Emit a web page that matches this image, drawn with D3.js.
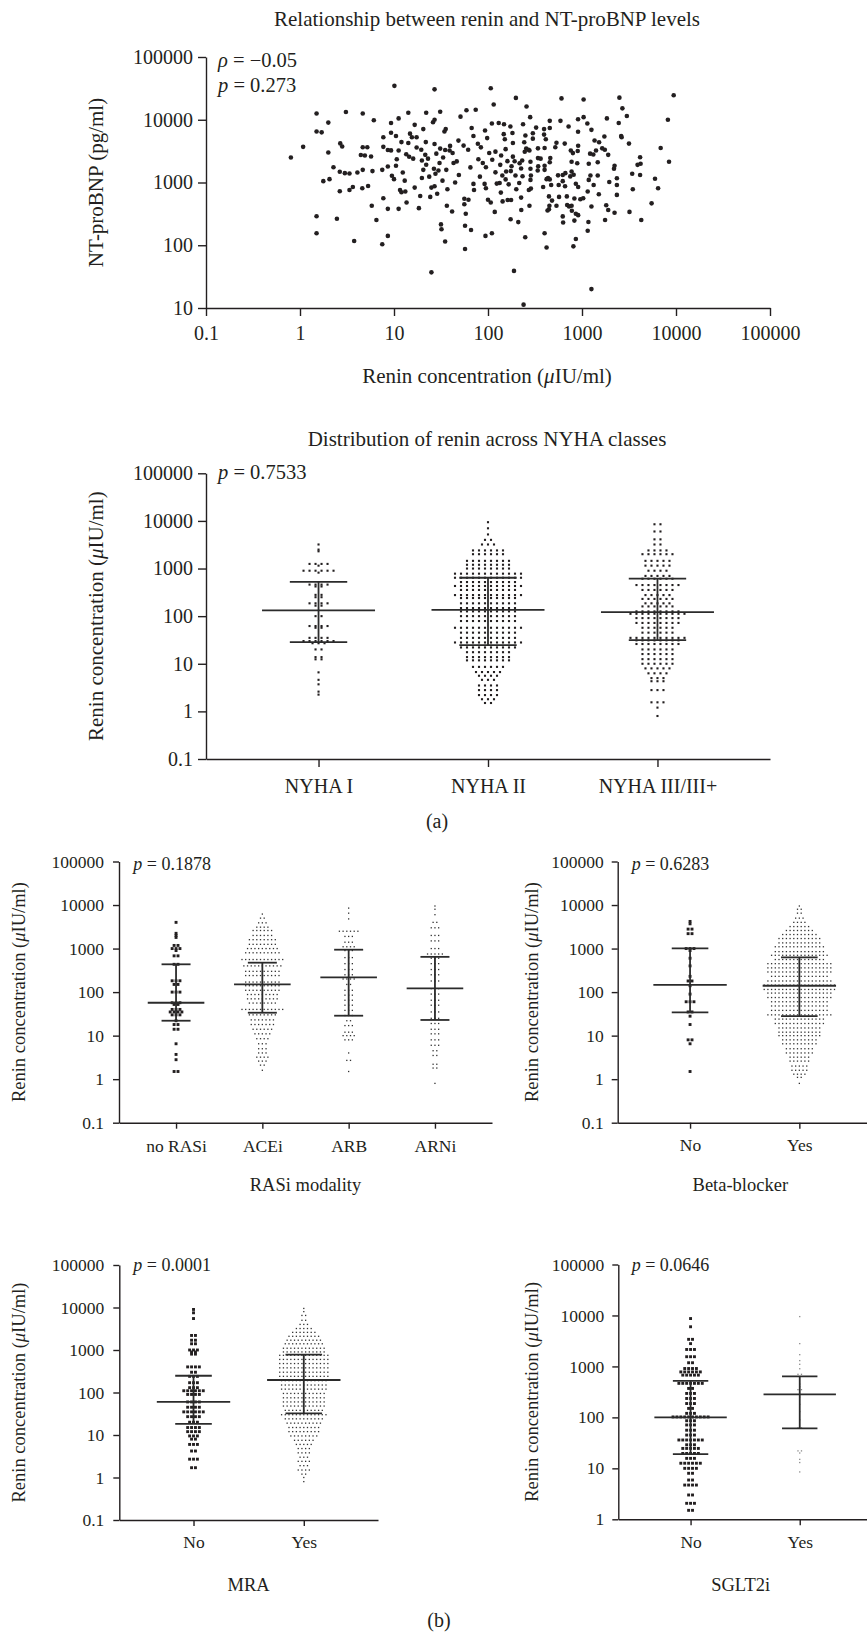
<!DOCTYPE html>
<html><head><meta charset="utf-8">
<script src="https://cdn.jsdelivr.net/npm/d3@7"></script>
<style>
body{margin:0;background:#fff}
</style></head><body>
<svg id="chart" width="867" height="1632"></svg>
<script>
// ---------------- DATA ----------------
const logTicks = [0.1, 1, 10, 100, 1000, 10000, 100000];
const logTickLabels = ["0.1", "1", "10", "100", "1000", "10000", "100000"];
const bnpTicks = [10, 100, 1000, 10000, 100000];
const bnpTickLabels = ["10", "100", "1000", "10000", "100000"];
const sgltTicks = [1, 10, 100, 1000, 10000, 100000];
const sgltTickLabels = ["1", "10", "100", "1000", "10000", "100000"];

// scatter: renin (µIU/ml) vs NT-proBNP (pg/ml)
const scatterRenin = [10.1,27,107,198,605,1040,2500,9450,8200,
0.8,1.08,1.5,1.5,1.7,2.0,2.0,1.77,2.06,2.27,2.65,1.5,1.5,2.47,3.08,2.68,2.81,2.65,3.0,3.36,3.36,3.65,3.77,4.08,4.65,4.65,5.2,4.44,4.9,5.7,4.65,4.6,5.3,6.1,5.9,5.8,6.5,7.5,7.5,7.7,7.7,7.7,8.6,8.6,8.6,8.6,9.3,9.3,9.3,9.5,10,10.5,10.7,10.5,11.2,11.2,11.2,12,12.4,11.6,12,13,13.2,13.6,14.2,13.5,14.2,14.5,14.8,15.5,16,16.6,16.6,17.4,17.4,18.4,19,19.5,19.8,20.5,20.5,19.8,21.5,22,21.8,22,23,23.7,24.3,25,25,26,27,26.6,27,27,27.6,28.2,28.8,29.7,30.5,31,31,31.6,32,32.8,33.3,34.4,35,35,35.5,36,36.5,37,39,39.5,41.5,42,43,44.7,46.5,48.5,49,51,55,56,56,58,57,57,59,61.5,62,66,67,65,70,70,71,74,78,79,82,84,88,94,95,93,100,103,110,111,107,110,115,92,98,95,
257,281,130,148,173,236,325,454,454,590,720,908,1040,1140,1260,908,1840,2690,3000,2460,2610,2640,3160,6870,8430,4150,4200,3900,4150,3420,5980,6450,3470,5500,4270,3200,2220,2350,2350,2350,2190,2220,1950,1900,1750,1640,1730,1520,1360,1410,1320,1470,1220,1180,1230,1330,1180,1470,1510,1810,1900,1760,1260,1150,1030,1170,1150,1260,960,910,900,890,800,775,775,750,815,860,910,830,775,780,860,910,830,860,810,728,695,660,690,624,665,624,655,760,535,520,556,565,570,535,480,450,445,430,624,630,454,460,454,470,436,420,400,400,445,400,420,386,395,400,412,395,340,340,363,342,338,300,300,283,286,272,286,283,283,276,270,255,246,250,243,231,217,225,233,215,200,225,226,276,249,210,192,196,178,184,184,182,175,176,162,166,154,156,161,154,151,147,174,189,239,138,135,142,133,137,143,120,124,120,118];
const scatterNtProBNP = [34700,30500,31800,22300,21900,21000,22500,24600,10000,
2500,3700,12600,6500,6300,9000,3000,1050,1130,1750,725,290,155,265,13300,4200,3750,1480,1410,1390,760,850,117,1440,12600,3640,3650,2740,2700,2600,1590,810,880,9800,1520,425,253,1590,104,5250,3700,560,3300,1800,380,141,8900,6200,3250,1280,1130,5500,2350,1850,10500,3230,380,4400,1440,760,700,1070,720,480,12900,2820,4250,2570,6000,5250,2400,8300,830,5250,3620,390,610,3320,2240,7100,1590,1180,2760,12900,4400,1920,2400,1240,590,37,830,9100,10000,1660,4100,870,1380,2880,660,1550,2040,13400,3470,215,180,1070,2500,6500,3300,115,7100,1590,425,780,3240,3830,345,2950,2040,1000,2170,4650,1320,11200,3870,550,450,317,87,205,14200,3320,530,175,7400,1740,5500,950,760,14400,4150,2350,1240,3630,2040,141,1750,6750,530,2950,8700,2300,480,155,17500,950,5100,810,
16300,11000,8900,8500,7800,8500,7500,9600,7400,9600,7800,10200,11000,8700,6900,6450,10500,15200,11500,8900,5500,5250,4170,3550,2140,2520,1990,1910,1320,1380,1150,810,780,465,253,340,330,635,910,1170,1660,1850,1020,2760,3330,3500,5400,4380,4660,3230,2800,2100,2880,1990,1290,910,1100,1290,650,435,365,253,415,720,560,235,170,20,540,3860,3180,2030,2940,2140,1500,1250,1330,955,850,555,425,355,317,302,247,126,96,416,437,870,600,1050,1410,1320,4170,3240,4290,3650,1300,910,590,425,515,425,375,357,288,230,2100,2460,1120,910,1180,1130,1850,1590,600,155,92,850,5800,3550,4900,7100,3500,2450,2400,1810,1550,5000,6100,1100,800,760,1290,1660,2140,3230,3330,3480,3090,5600,4380,2240,2030,1670,1260,980,780,575,365,425,134,234,2180,1290,1820,2580,4250,6150,1520,525,525,935,1120,1500,2190,3400,4900,5900,260,39,11.3,2690,1910,1290,980,690,500,1450,960,3100,340];

// NYHA classes: rows of dots as [renin value, number of dots in the row]
const nyhaCats = ["NYHA I", "NYHA II", "NYHA III/III+"];
const nyha1Rows = [[3200,1],[2500,1],[2300,1],[1250,4],[1150,1],[900,6],[820,1],[460,4],[420,2],[280,2],[250,2],[186,4],[166,2],[100,2],[62,4],[57,2],[35,4],[30,6],[27,3],[20,2],[13.8,2],[12.4,2],[6.6,1],[4.6,1],[3.7,1],[2.6,1],[2.25,1]];
const nyha2Rows = [[9400,1],[7000,1],[5200,1],[4000,2],[3200,3],[2400,6],[2000,6],[1450,8],[1200,8],[1000,8],[780,12],[640,12],[520,10],[430,12],[355,10],[277,12],[240,10],[186,10],[148,10],[126,10],[100,10],[79,10],[57,12],[45,10],[35,10],[28,12],[22,10],[17.5,8],[13.8,8],[11.8,8],[8.6,6],[6.7,5],[5.6,4],[4.6,3],[3.5,4],[2.8,4],[2.2,4],[1.8,3],[1.5,2]];
const nyha3Rows = [[8500,2],[6000,2],[4100,2],[3200,2],[2400,4],[2000,6],[1450,5],[1150,5],[900,4],[700,5],[610,6],[450,8],[355,6],[277,5],[230,6],[186,5],[160,6],[126,8],[112,10],[91,8],[72,8],[57,6],[45,6],[35,10],[31,8],[26,8],[20,6],[16,6],[12.5,6],[10,6],[8,5],[6.3,4],[5,3],[4.3,3],[2.8,3],[1.55,3],[1.2,1],[0.8,1]];
const nyhaMedian = [132, 136, 122];
const nyhaQ1 = [28.5, 24.7, 31.3];
const nyhaQ3 = [523, 641, 611];

// RASi modality
const rasiCats = ["no RASi", "ACEi", "ARB", "ARNi"];
const noRasiRows = [[4000,1],[2240,1],[2000,1],[1800,1],[1180,2],[1000,3],[900,1],[680,2],[435,2],[182,3],[150,2],[100,3],[57,3],[52,2],[40,3],[35,4],[30,3],[22,1],[18,2],[14,2],[6.5,1],[3.7,1],[2.8,1],[1.5,2]];
const aceiRows = [[6200,1],[5000,2],[3900,3],[3100,4],[2600,6],[2000,6],[1600,8],[1250,8],[1000,9],[800,10],[560,12],[400,11],[300,10],[240,10],[170,10],[140,10],[110,10],[88,9],[70,9],[56,8],[40,12],[30,8],[23,7],[18,7],[14,6],[11,5],[8.5,4],[6.5,3],[5,3],[4,3],[3.2,4],[2.6,3],[2.1,2],[1.6,1]];
const arbRows = [[8500,1],[6500,1],[4800,1],[2500,6],[1900,3],[1400,3],[1100,4],[900,3],[620,3],[450,3],[330,3],[250,3],[200,4],[150,2],[110,3],[85,3],[65,3],[50,3],[38,3],[29,3],[22,2],[17,3],[12,3],[10,4],[8,3],[4,1],[2.7,2],[1.5,1]];
const arniRows = [[9500,1],[8000,1],[6000,1],[4000,2],[3000,3],[2000,3],[1500,3],[1000,3],[750,5],[600,3],[450,3],[330,3],[250,3],[180,3],[120,3],[90,3],[65,3],[50,3],[35,3],[25,3],[19,3],[14,3],[11,3],[8,3],[6,3],[4.5,2],[3.5,2],[2.2,2],[1.8,2],[0.8,1]];
const rasiMedian = [57, 151, 219, 122];
const rasiQ1 = [22, 33.6, 28.7, 22.9];
const rasiQ3 = [435, 474, 942, 645];

// Yes / No panels
const yesNoCats = ["No", "Yes"];
const bbNoRows = [[4200,1],[3700,1],[2800,2],[2200,2],[1000,3],[900,1],[600,1],[400,1],[230,1],[180,2],[140,1],[90,1],[60,3],[35,2],[28,1],[18,1],[8,2],[6.5,1],[1.5,1]];
const bbYesRows = [[9500,1],[8000,2],[6500,2],[5000,3],[4000,4],[3200,6],[2600,8],[2100,10],[1700,12],[1350,12],[1100,14],[850,14],[700,16],[560,14],[450,18],[360,18],[290,18],[230,16],[180,18],[145,20],[115,20],[95,18],[75,18],[60,16],[48,16],[38,16],[30,18],[24,14],[19,14],[15,12],[12,12],[10,12],[8,10],[6.5,10],[5,8],[4,8],[3.2,6],[2.6,6],[2,5],[1.6,5],[1.3,4],[1.1,2],[0.8,1]];
const bbMedian = [146, 140];
const bbQ1 = [34.4, 28];
const bbQ3 = [1010, 630];

const mraNoRows = [[9000,1],[7500,1],[5500,1],[2200,2],[1700,2],[1400,2],[1000,3],[900,2],[800,2],[400,4],[300,2],[240,3],[170,3],[130,3],[110,6],[90,4],[60,4],[45,4],[35,6],[27,4],[20,3],[15,4],[12,4],[9.5,3],[8,2],[6,3],[4.2,2],[2.7,3],[1.7,2]];
const mraYesRows = [[9500,1],[8000,1],[6500,2],[5000,2],[4000,3],[3200,5],[2600,7],[2100,9],[1700,10],[1400,11],[1100,12],[900,12],[750,14],[600,14],[480,14],[380,14],[300,14],[240,14],[190,13],[150,13],[120,13],[95,12],[75,12],[60,12],[48,12],[38,11],[30,13],[24,11],[19,10],[15,9],[12,9],[9.5,8],[7.5,6],[6,5],[4.8,4],[3.8,4],[3,3],[2.4,4],[1.9,3],[1.5,4],[1.2,2],[1,1],[0.8,1]];
const mraMedian = [60, 197];
const mraQ1 = [18.2, 32.4];
const mraQ3 = [248, 776];

const sgltNoRows = [[8700,1],[6000,1],[3400,2],[2800,1],[2150,3],[1550,3],[1180,2],[910,4],[780,6],[675,5],[465,7],[370,2],[295,3],[235,3],[187,3],[150,2],[120,3],[102,10],[86,3],[71,3],[56,3],[45,3],[36,7],[29,3],[24.6,5],[19.6,5],[15.7,3],[12.6,6],[10,4],[8,2],[5.9,2],[4.7,4],[3,2],[2.06,3],[1.5,2]];
const sgltYesRows = [[9500,1],[2800,1],[1700,1],[1300,1],[1100,1],[900,1],[700,2],[450,1],[400,1],[350,2],[280,1],[250,1],[180,1],[130,1],[90,1],[62,2],[22,2],[20,1],[15,1],[13,1],[8.5,1]];
const sgltMedian = [100, 282];
const sgltQ1 = [19, 61];
const sgltQ3 = [522, 635];

// ---------------- DRAWING ----------------
const ink = "#231f20";
const FONT = '"Liberation Serif","Times New Roman",Times,serif';
const svg = d3.select("#chart");

function styleAxis(sel, fs) {
  sel.attr("font-family", FONT).attr("font-size", fs);
  sel.select(".domain").attr("stroke", ink).attr("stroke-width", 1.4);
  sel.selectAll(".tick line").attr("stroke", ink).attr("stroke-width", 1.4);
  sel.selectAll(".tick text").attr("fill", ink).attr("font-size", fs).attr("font-family", FONT);
}

// parts: array of [string, italic?]
function addText(x, y, parts, fs, anchor, rot) {
  const t = svg.append("text")
    .attr("font-family", FONT).attr("font-size", fs).attr("fill", ink)
    .attr("text-anchor", anchor || "start");
  if (rot) t.attr("transform", `translate(${x},${y}) rotate(${rot})`);
  else t.attr("x", x).attr("y", y);
  parts.forEach(p => {
    const ts = t.append("tspan").text(p[0]);
    if (p[1]) ts.attr("font-style", "italic");
  });
  return t;
}
const reninLabel = [["Renin concentration (", false], ["\u03bc", true], ["IU/ml)", false]];

// ---- Panel 1: scatter ----
(function () {
  const x = d3.scaleLog().domain([0.1, 100000]).range([206, 770]);
  const y = d3.scaleLog().domain([10, 100000]).range([308, 57]);
  const ya = d3.axisLeft(y).tickValues(bnpTicks).tickFormat((d, i) => bnpTickLabels[i])
    .tickSize(8).tickSizeOuter(0).tickPadding(5);
  svg.append("g").attr("transform", "translate(206,0)").call(ya).call(s => styleAxis(s, 20));
  const xa = d3.axisBottom(x).tickValues(logTicks).tickFormat((d, i) => logTickLabels[i])
    .tickSize(8).tickSizeOuter(0).tickPadding(9.5);
  svg.append("g").attr("transform", "translate(0,308)").call(xa).call(s => styleAxis(s, 20));

  const pts = scatterRenin.map((r, i) => ({ r, b: scatterNtProBNP[i] }));
  svg.append("g").selectAll("circle").data(pts).join("circle")
    .attr("cx", d => x(d.r)).attr("cy", d => y(d.b)).attr("r", 2.3).attr("fill", ink);

  addText(487, 26, [["Relationship between renin and NT-proBNP levels", false]], 21, "middle");
  addText(487, 383, reninLabel, 21, "middle");
  addText(103, 182.5, [["NT-proBNP (pg/ml)", false]], 21, "middle", -90);
  addText(218, 67, [["\u03c1", true], [" = \u22120.05", false]], 20.5);
  addText(218, 92, [["p", true], [" = 0.273", false]], 20.5);
})();

// ---- generic dot plot ----
function dotPanel(o) {
  const g = svg.append("g");
  const y = d3.scaleLog().domain(o.yDomain).range([o.yBottom, o.yTop]);
  const x = d3.scalePoint().domain(o.cats).range([o.xL, o.xR]).padding(o.pad);

  const ya = d3.axisLeft(y).tickValues(o.ticks).tickFormat((d, i) => o.tickLabels[i])
    .tickSize(o.tk).tickSizeOuter(0).tickPadding(o.ypad);
  g.append("g").attr("transform", `translate(${o.xL},0)`).call(ya).call(s => styleAxis(s, o.tfs));
  const xa = d3.axisBottom(x).tickSize(o.tk).tickSizeOuter(0).tickPadding(o.xpad);
  g.append("g").attr("transform", `translate(0,${o.yBottom})`).call(xa).call(s => styleAxis(s, o.tfs));

  o.groups.forEach((rows, gi) => {
    const cx = x(o.cats[gi]);
    const st = o.styles[gi];
    const dots = [];
    rows.forEach(([v, c]) => { for (let i = 0; i < c; i++) dots.push({ v, off: (i - (c - 1) / 2) * st.gap }); });
    g.append("g").selectAll("rect").data(dots).join("rect")
      .attr("x", d => cx + d.off - st.size / 2).attr("y", d => y(d.v) - st.size / 2)
      .attr("width", st.size).attr("height", st.size).attr("fill", st.color);
  });

  const lg = g.append("g").attr("stroke", "#2b2b2b").attr("stroke-width", 1.8);
  o.cats.forEach((c, gi) => {
    const cx = x(c);
    lg.append("line").attr("x1", cx - o.mh).attr("x2", cx + o.mh).attr("y1", y(o.med[gi])).attr("y2", y(o.med[gi]));
    lg.append("line").attr("x1", cx - o.ih).attr("x2", cx + o.ih).attr("y1", y(o.q1[gi])).attr("y2", y(o.q1[gi]));
    lg.append("line").attr("x1", cx - o.ih).attr("x2", cx + o.ih).attr("y1", y(o.q3[gi])).attr("y2", y(o.q3[gi]));
    lg.append("line").attr("x1", cx).attr("x2", cx).attr("y1", y(o.q1[gi])).attr("y2", y(o.q3[gi]));
  });

  addText(o.pX, o.pY, [["p", true], [" = " + o.pText, false]], o.pfs);
  if (o.xTitle) addText((o.xL + Math.min(o.xR, 867)) / 2 + (o.xTitleShift || 0), o.xTitleY, [[o.xTitle, false]], o.lfs, "middle");
  addText(o.yTitleX, (o.yTop + o.yBottom) / 2, reninLabel, o.lfs, "middle", -90);
}

const bigSq = { size: 2.9, gap: 3.9, color: ink };
const smallDot = { size: 1.3, gap: 3.7, color: "#333333" };
const nyhaDot = { size: 2.1, gap: 6, color: ink };

// ---- Panel 2: NYHA ----
dotPanel({
  yDomain: [0.1, 100000], yTop: 473.3, yBottom: 759, xL: 206, xR: 770, pad: 0.664,
  cats: nyhaCats, ticks: logTicks, tickLabels: logTickLabels, tk: 8, ypad: 5, xpad: 12, tfs: 20,
  groups: [nyha1Rows, nyha2Rows, nyha3Rows], styles: [nyhaDot, nyhaDot, nyhaDot],
  med: nyhaMedian, q1: nyhaQ1, q3: nyhaQ3, mh: 56.5, ih: 28.7,
  pX: 218, pY: 479, pText: "0.7533", pfs: 20.5, lfs: 21, yTitleX: 103
});
addText(487, 446, [["Distribution of renin across NYHA classes", false]], 21, "middle");
addText(437, 828, [["(a)", false]], 20, "middle");

// ---- Panel b1: RASi ----
dotPanel({
  yDomain: [0.1, 100000], yTop: 861.5, yBottom: 1122.7, xL: 119, xR: 492, pad: 0.661,
  cats: rasiCats, ticks: logTicks, tickLabels: logTickLabels, tk: 6, ypad: 9, xpad: 11.3, tfs: 17.5,
  groups: [noRasiRows, aceiRows, arbRows, arniRows], styles: [bigSq, smallDot, smallDot, smallDot],
  med: rasiMedian, q1: rasiQ1, q3: rasiQ3, mh: 28.3, ih: 14.5,
  pX: 133.3, pY: 870, pText: "0.1878", pfs: 18, lfs: 18.5, yTitleX: 25,
  xTitle: "RASi modality", xTitleY: 1191
});

// ---- Panel b2: Beta-blocker ----
dotPanel({
  yDomain: [0.1, 100000], yTop: 861.5, yBottom: 1122.7, xL: 617.7, xR: 871.7, pad: 0.662,
  cats: yesNoCats, ticks: logTicks, tickLabels: logTickLabels, tk: 6, ypad: 8, xpad: 9.7, tfs: 17.5,
  groups: [bbNoRows, bbYesRows], styles: [bigSq, smallDot],
  med: bbMedian, q1: bbQ1, q3: bbQ3, mh: 36.7, ih: 18.3,
  pX: 631.7, pY: 870, pText: "0.6283", pfs: 18, lfs: 18.5, yTitleX: 538,
  xTitle: "Beta-blocker", xTitleY: 1191, xTitleShift: -2
});

// ---- Panel b3: MRA ----
dotPanel({
  yDomain: [0.1, 100000], yTop: 1265, yBottom: 1520, xL: 119.3, xR: 378, pad: 0.673,
  cats: yesNoCats, ticks: logTicks, tickLabels: logTickLabels, tk: 6, ypad: 9, xpad: 10, tfs: 17.5,
  groups: [mraNoRows, mraYesRows], styles: [bigSq, smallDot],
  med: mraMedian, q1: mraQ1, q3: mraQ3, mh: 36.7, ih: 18.3,
  pX: 133.3, pY: 1271, pText: "0.0001", pfs: 18, lfs: 18.5, yTitleX: 25,
  xTitle: "MRA", xTitleY: 1591
});

// ---- Panel b4: SGLT2i ----
dotPanel({
  yDomain: [1, 100000], yTop: 1264.5, yBottom: 1519.3, xL: 618.3, xR: 872, pad: 0.662,
  cats: yesNoCats, ticks: sgltTicks, tickLabels: sgltTickLabels, tk: 6, ypad: 8, xpad: 10.7, tfs: 17.5,
  groups: [sgltNoRows, sgltYesRows], styles: [bigSq, { size: 1.3, gap: 3.5, color: "#8a8a8a" }],
  med: sgltMedian, q1: sgltQ1, q3: sgltQ3, mh: 36.2, ih: 17.7,
  pX: 631.7, pY: 1271, pText: "0.0646", pfs: 18, lfs: 18.5, yTitleX: 538,
  xTitle: "SGLT2i", xTitleY: 1591, xTitleShift: -2
});

addText(439, 1627, [["(b)", false]], 20, "middle");
</script>
</body></html>
